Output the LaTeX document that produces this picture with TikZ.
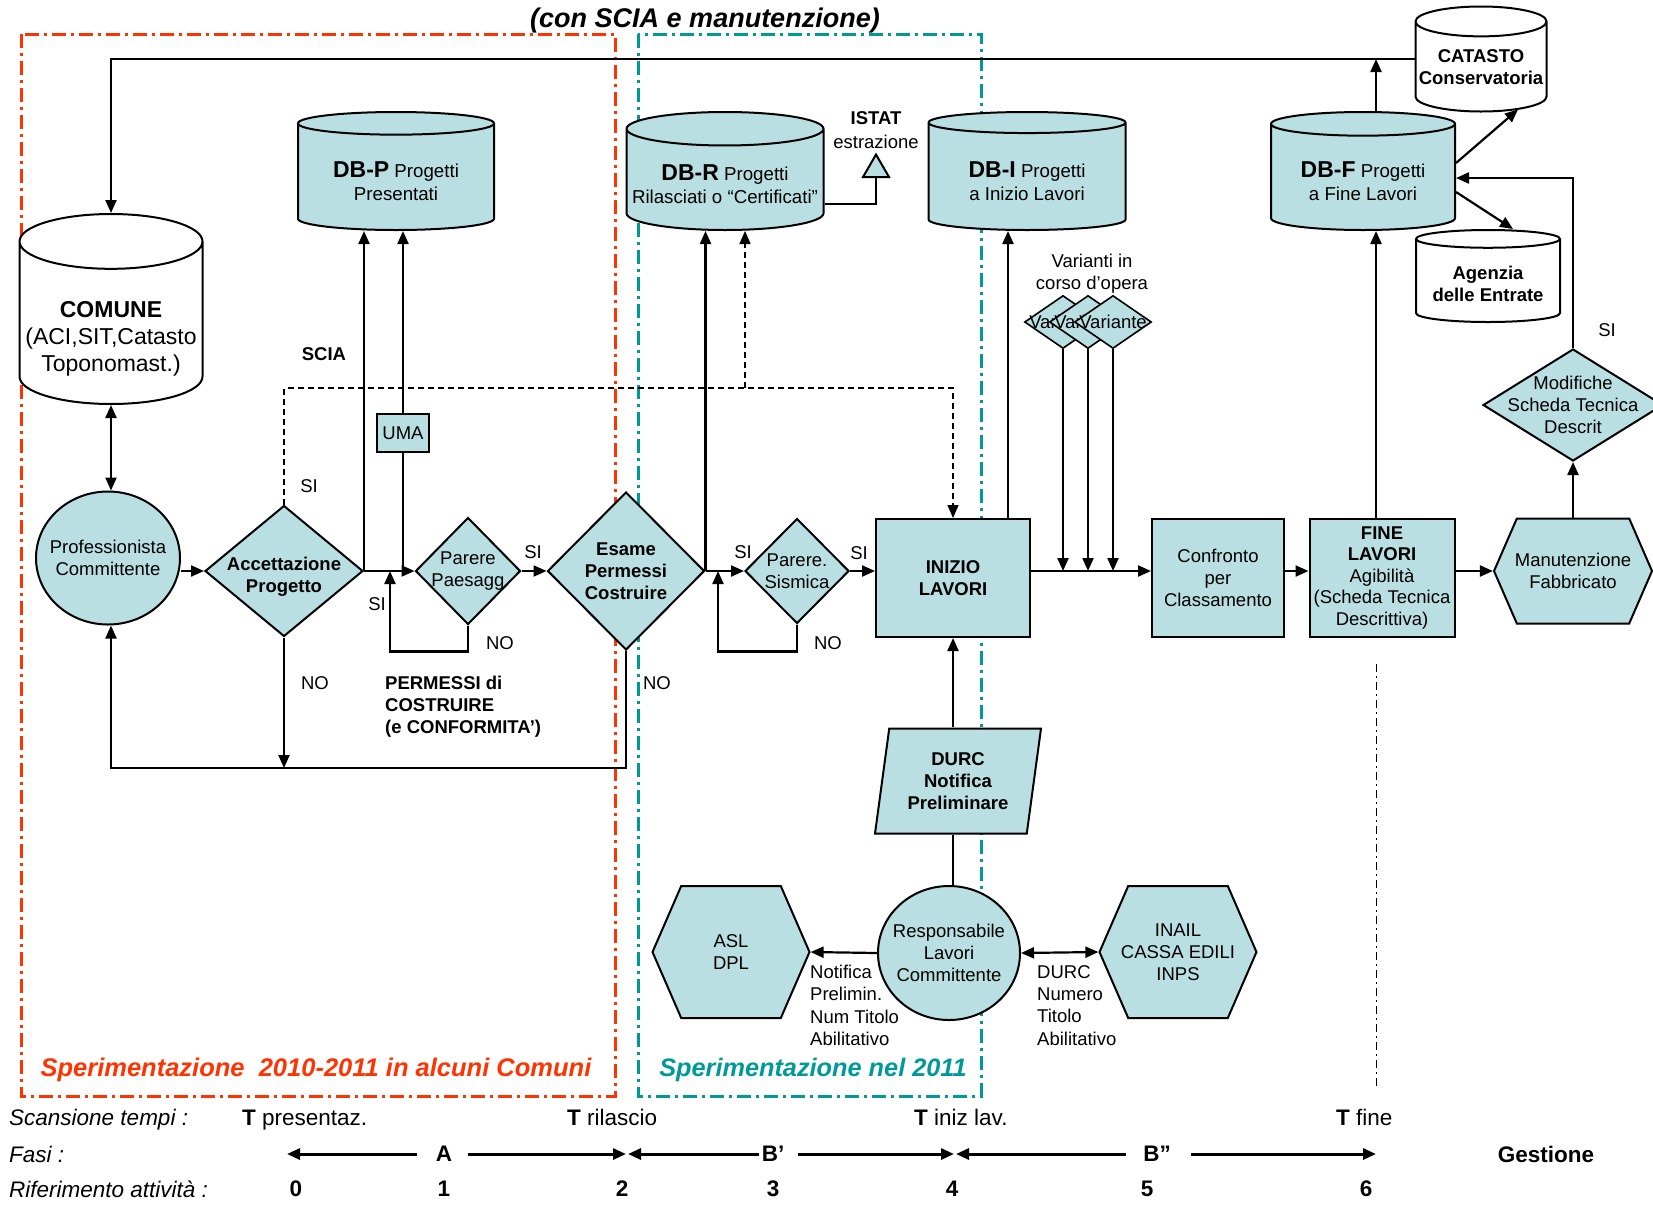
\documentclass[tikz,border=0pt]{standalone}
\usepackage{fontspec}
\setmainfont{Liberation Sans}
\usetikzlibrary{arrows.meta,shapes.geometric,shapes.symbols}
\definecolor{lavfill}{RGB}{185,223,226}
\definecolor{sperred}{RGB}{255,51,0}
\definecolor{spergreen}{RGB}{0,153,153}
\def\fnt#1#2{\fontsize{#1}{#2}\selectfont}
\def\capgap#1{\rule{0pt}{#1}}

\begin{document}
\begin{tikzpicture}[x=1pt,y=-1pt,
  >={Triangle[length=13pt,width=11pt]},
  every node/.style={font=\fnt{18.5}{22}},
  link/.style={line width=2.2pt},
  linkar/.style={link,->},
  linkdbl/.style={link,<->},
  dashar/.style={line width=1.5pt,dash pattern=on 6pt off 4pt,->},
  phase/.style={line width=3pt,->},
  block/.style={rectangle,draw,line width=2pt,fill=lavfill,align=center,inner sep=1pt},
  choice/.style={diamond,draw,line width=2pt,fill=lavfill,align=center,inner sep=-14pt},
  actor/.style={ellipse,draw,line width=2pt,fill=lavfill,align=center,inner sep=-12pt},
  office/.style={signal,signal to=west and east,signal pointer angle=133,draw,line width=2pt,
    fill=lavfill,align=center,inner xsep=-8pt,inner ysep=0pt},
  archive/.style={cylinder,shape border rotate=90,draw,line width=2pt,fill=lavfill,align=center,
    inner sep=0pt,anchor=shape center,font=\fnt{18.7}{23}},
  extdb/.style={archive,fill=white,font=\bfseries\fnt{18.5}{22}},
  frame/.style={line width=3pt,dash pattern=on 14pt off 5pt on 3pt off 5pt},
  tag/.style={inner sep=1pt},
]
\useasboundingbox (0,0) rectangle (1653,1208);

%%%%% FRAMES %%%%%
\draw[frame,sperred] (21,34) rectangle (615,1096);
\draw[frame,spergreen] (638,34) rectangle (981,1096);
\draw[line width=1pt,dash pattern=on 8pt off 4pt on 2pt off 4pt] (1376,664) -- (1376,1086);

\node[font=\bfseries\itshape\fnt{27}{30}] (title) at (705,21) {(con SCIA e manutenzione)};

%%%%% DATABASES %%%%%
\node[archive,fill=white,minimum width=183pt,minimum height=183pt,aspect=0.32,font=\fnt{23}{27}] (comune) at (111,309) {\capgap{48pt}\textbf{COMUNE}\\(ACI,SIT,Catasto\\Toponomast.)};
\node[archive,minimum width=196pt,minimum height=118pt,aspect=0.18] (dbp) at (396,171) {\capgap{24pt}{\fnt{23}{23}\textbf{DB-P}} Progetti\\Presentati};
\node[archive,minimum width=197pt,minimum height=118pt,aspect=0.18] (dbr) at (725,171) {\capgap{24pt}{\fnt{23}{23}\textbf{DB-R}} Progetti\\Rilasciati o “Certificati”};
\node[archive,minimum width=197pt,minimum height=118pt,aspect=0.18] (dbi) at (1027,171) {\capgap{24pt}{\fnt{23}{23}\textbf{DB-I}} Progetti\\a Inizio Lavori};
\node[archive,minimum width=184pt,minimum height=118pt,aspect=0.19] (dbf) at (1363,171) {\capgap{24pt}{\fnt{23}{23}\textbf{DB-F}} Progetti\\a Fine Lavori};
\node[extdb,minimum width=131pt,minimum height=105pt,aspect=0.24] (catasto) at (1481,59) {CATASTO\\Conservatoria};
\node[extdb,minimum width=144pt,minimum height=92pt,aspect=0.16] (agenzia) at (1488,276) {\capgap{19pt}Agenzia\\delle Entrate};

%%%%% FLOW %%%%%
\node[actor,minimum width=144pt,minimum height=133pt] (prof) at (108,558) {Professionista\\Committente};
\node[choice,minimum width=158pt,minimum height=131pt,font=\bfseries\fnt{18.5}{22}] (acc) at (284,571) {\capgap{25pt}Accettazione\\Progetto};
\node[block,minimum width=52pt,minimum height=38pt,inner sep=0pt] (uma) at (403,433) {UMA};
\node[choice,minimum width=105pt,minimum height=107pt] (par) at (468,571) {Parere\\Paesagg};
\node[choice,minimum width=157pt,minimum height=158pt,font=\bfseries\fnt{18.5}{22}] (esame) at (626,571) {Esame\\Permessi\\Costruire};
\node[choice,minimum width=104pt,minimum height=105pt] (sism) at (797,571) {Parere.\\Sismica};
\node[block,minimum width=154pt,minimum height=118pt,font=\bfseries\fnt{18.5}{22}] (inizio) at (953,578) {INIZIO\\LAVORI};
\node[block,minimum width=132pt,minimum height=118pt] (confr) at (1218,578) {Confronto\\per\\Classamento};
\node[block,minimum width=145pt,minimum height=118pt,font=\fnt{18.5}{21.5}] (fine) at (1382,578) {\textbf{FINE}\\\textbf{LAVORI}\\Agibilità\\(Scheda Tecnica\\Descrittiva)};
\node[office,minimum width=158pt,minimum height=105pt] (manut) at (1573,571) {Manutenzione\\Fabbricato};
\node[choice,aspect=1.6,minimum width=180pt,minimum height=112pt] (modif) at (1573,405) {Modifiche\\Scheda Tecnica\\Descrit};

\node[regular polygon,regular polygon sides=3,draw,line width=2pt,fill=lavfill,minimum size=30pt,inner sep=0pt,anchor=south] (istat) at (876,178) {};
\node[tag,align=center,font=\fnt{18.5}{24}] (istatlbl) at (876,130) {\textbf{ISTAT}\\estrazione};

\node[choice,minimum width=77pt,minimum height=53pt,inner sep=-10pt,line width=1.6pt] (var1) at (1063,322) {Variante};
\node[choice,minimum width=77pt,minimum height=53pt,inner sep=-10pt,line width=1.6pt] (var2) at (1088,322) {Variante};
\node[choice,minimum width=77pt,minimum height=53pt,inner sep=-10pt,line width=1.6pt] (var3) at (1113,322) {Variante};
\node[tag,align=center] (varlbl) at (1092,274) {Varianti in\\corso d’opera};

\node[trapezium,trapezium left angle=76,trapezium right angle=104,trapezium stretches body,draw,line width=2pt,fill=lavfill,align=center,minimum width=166pt,minimum height=105pt,inner sep=0pt,font=\bfseries\fnt{18.5}{22}] (durc) at (958,781) {DURC\\Notifica\\Preliminare};
\node[actor,minimum width=142pt,minimum height=134pt] (resp) at (949,953) {Responsabile\\Lavori\\Committente};
\node[office,minimum width=157pt,minimum height=132pt] (asl) at (731,952) {ASL\\DPL};
\node[office,minimum width=157pt,minimum height=132pt] (inail) at (1178,952) {INAIL\\CASSA EDILI\\INPS};

%%%%% CONNECTORS %%%%%
\coordinate (catl) at (catasto.west |- catasto.shape center);
\coordinate (dbfr) at (dbf.east |- dbf.shape center);
\coordinate (dbrr) at (dbr.east |- dbr.shape center);
\draw[linkar] (catl) -| (comune.north);
\draw[linkar] ([xshift=13pt]dbf.north) -- ([xshift=13pt]dbf.north |- catl);
\draw[linkdbl] (comune.south) -- (comune.south |- prof.north);
\draw[linkar] (prof.east |- acc.west) -- (acc.west);
\draw[linkar] (acc.east) -- (par.west);
\draw[linkar] (acc.east) -- (acc.east |- dbp.south);
\draw[link] (uma.south) -- (uma.south |- par.west);
\draw[linkar] (uma.north) -- (uma.north |- dbp.south);
\coordinate (pl) at (390,571);
\draw[linkar] (par.south) -- ++(0,26) -| (pl);
\draw[linkar] (par.east) -- (esame.west);
\coordinate (backl) at (626,768);
\draw[linkar] (esame.south) -- (backl) -| (comune.south |- prof.south);
\draw[linkar] (acc.south) -- (acc.south |- backl);
\draw[linkar] (esame.east) -- (sism.west);
\draw[linkar] (esame.east) -- (esame.east |- dbr.south);
\coordinate (sl) at (718,571);
\draw[linkar] (sism.south) -- ++(0,27) -| (sl);
\draw[linkar] (sism.east) -- (sism.east -| inizio.west);
\coordinate (dsplit) at (745,388);
\draw[dashar] (acc.north) |- (dsplit) -| (inizio.north);
\draw[dashar] (dsplit) -- (dsplit |- dbr.south);
\draw[linkar] ([xshift=55pt]inizio.north) -- ([xshift=55pt]inizio.north |- dbi.south);
\draw[linkar] (inizio.east |- sism.east) -- (confr.west |- sism.east);
\foreach \v in {var1,var2,var3}
  \draw[linkar] (\v.south) -- (\v.south |- sism.east);
\draw[linkar] (confr.east |- sism.east) -- (fine.west |- sism.east);
\draw[linkar] (fine.east |- manut.west) -- (manut.west);
\draw[linkar] ([xshift=-6pt]fine.north) -- ([xshift=-6pt]fine.north |- dbf.south);
\draw[linkar] (manut.north) -- (modif.south);
\draw[linkar] (modif.north) |- ([yshift=-7pt]dbfr);
\draw[linkar] ([yshift=8pt]dbfr) -- ([xshift=37pt,yshift=3pt]catasto.south);
\draw[linkar] ([yshift=-21pt]dbfr) -- ([xshift=25pt]agenzia.north);
\draw[link] ([yshift=-33pt]dbrr) -| (istat.south);
\draw[linkar] (durc.north -| inizio.south) -- (inizio.south);
\draw[link] (inizio.south |- resp.north) -- (inizio.south |- durc.south);
\draw[linkar] (resp.west) -- (asl.east);
\draw[linkdbl] (resp.east) -- (inail.west);

%%%%% LABELS %%%%%
\node[tag,font=\bfseries\fnt{18.5}{22}] (scia) at (324,354) {SCIA};
\node[tag] (siacc) at (309,486) {SI};
\node[tag] (noacc) at (315,683) {NO};
\node[tag] (sipar) at (377,604) {SI};
\node[tag] (nopar) at (500,643) {NO};
\node[tag] (siesame) at (533,552) {SI};
\node[tag] (noesame) at (657,683) {NO};
\node[tag,align=left,anchor=north west,font=\bfseries\fnt{18.5}{22}] (permessi) at (384,675) {PERMESSI di\\COSTRUIRE\\(e CONFORMITA’)};
\node[tag] (sisism) at (743,552) {SI};
\node[tag] (nosism) at (828,643) {NO};
\node[tag] (siinizio) at (859,553) {SI};
\node[tag] (simodif) at (1607,330) {SI};
\node[tag,align=left,anchor=north west,font=\fnt{18.5}{22.3}] (notlbl) at (809,964) {Notifica\\Prelimin.\\Num Titolo\\Abilitativo};
\node[tag,align=left,anchor=north west,font=\fnt{18.5}{22.3}] (durclbl) at (1036,964) {DURC\\Numero\\Titolo\\Abilitativo};

\node[tag,text=sperred,font=\bfseries\itshape\fnt{25.5}{30}] (sperA) at (316,1070) {Sperimentazione\ \ 2010-2011 in alcuni Comuni};
\node[tag,text=spergreen,font=\bfseries\itshape\fnt{25.3}{30}] (sperB) at (813,1070) {Sperimentazione nel 2011};

%%%%% TIME SCALE %%%%%
\node[tag,anchor=base west,font=\itshape\fnt{22.5}{26}] (scanlbl) at (8,1125) {Scansione tempi :};
\node[tag,anchor=west,font=\itshape\fnt{22.5}{26}] (fasilbl) at (8,1154) {Fasi :};
\node[tag,anchor=west,font=\itshape\fnt{22.5}{26}] (riflbl) at (8,1189) {Riferimento attività :};
\node[tag,anchor=base west,font=\fnt{22.5}{26}] (tpres) at (241,1125) {\textbf{T} presentaz.};
\node[tag,anchor=base west,font=\fnt{22.5}{26}] (tril) at (566,1125) {\textbf{T} rilascio};
\node[tag,anchor=base west,font=\fnt{22.5}{26}] (tiniz) at (913,1125) {\textbf{T} iniz lav.};
\node[tag,anchor=base west,font=\fnt{22.5}{26}] (tfine) at (1335,1125) {\textbf{T} fine};

\node[tag,font=\bfseries\fnt{22.5}{26}] (faseA) at (444,1154) {A};
\node[tag,font=\bfseries\fnt{22.5}{26}] (faseB1) at (773,1154) {B’};
\node[tag,font=\bfseries\fnt{22.5}{26}] (faseB2) at (1157,1154) {B”};
\node[tag,font=\bfseries\fnt{22.5}{26}] (gest) at (1546,1154) {Gestione};
\coordinate (t0) at (287,1154);
\coordinate (t2) at (627,1154);
\coordinate (t4) at (955,1154);
\coordinate (t6) at (1376,1154);
\draw[phase] ([xshift=-27pt]faseA.center) -- (t0);
\draw[phase] ([xshift=24pt]faseA.center) -- ([xshift=-1pt]t2);
\draw[phase] ([xshift=-14pt]faseB1.center) -- ([xshift=1pt]t2);
\draw[phase] ([xshift=25pt]faseB1.center) -- ([xshift=-1pt]t4);
\draw[phase] ([xshift=-31pt]faseB2.center) -- ([xshift=1pt]t4);
\draw[phase] ([xshift=34pt]faseB2.center) -- (t6);

\foreach \n/\x in {0/296,1/444,2/622,3/773,4/952,5/1147,6/1366}
  \node[tag,font=\bfseries\fnt{22.5}{26}] (rif\n) at (\x,1189) {\n};
\end{tikzpicture}
\end{document}
